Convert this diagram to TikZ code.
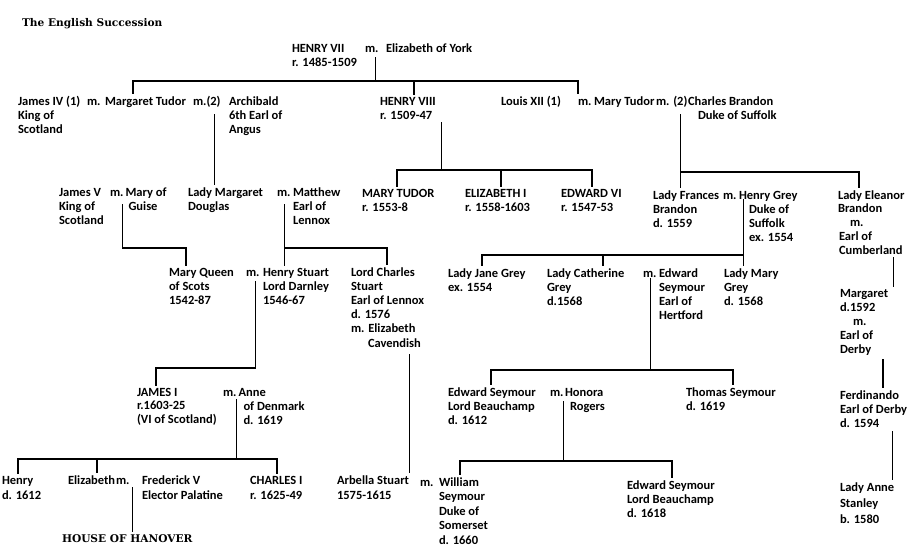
\documentclass[tikz,border=0pt]{standalone}
\usepackage{fontspec}
\newfontfamily\labfont{Carlito}
\newfontfamily\ttlfont{DejaVu Serif}
\usetikzlibrary{calc}
\newcommand\famstack[2][14]{\vtop{\baselineskip=#1pt\lineskiplimit=-100pt\lineskip=0pt\halign{##\hfil\cr#2\crcr}}}
\tikzset{
  lab/.style={anchor=base west, inner sep=0pt, outer sep=0pt, font=\labfont\bfseries\fontsize{12.5pt}{14pt}\selectfont},
  ttl/.style={anchor=base west, inner sep=0pt, outer sep=0pt, font=\ttlfont\bfseries\fontsize{10.6pt}{13pt}\selectfont},
  ln/.style={draw=black, line width=1.2pt, line cap=rect},
  drop/.style={ln, shorten >=2.5pt},
}
\begin{document}
\begin{tikzpicture}[x=1pt,y=-1pt]
\fill[white] (0,0) rectangle (912,550);
\useasboundingbox (0,0) rectangle (912,550);

\node[ttl] (title) at (22,26) {The English Succession};

% Row 1
\node[lab] (h7) at (292,52) {\famstack{HENRY VII\cr r. 1485-1509}};
\node[lab] (m0) at (365,52) {m.};
\node[lab] (eoy) at (386,52) {Elizabeth of York};

% Row 2
\node[lab] (j4) at (18,105) {\famstack{James IV (1)\cr King of\cr Scotland}};
\node[lab] (m1) at (87,105) {m.};
\node[lab] (mt) at (105,105) {Margaret Tudor};
\node[lab] (m2) at (193,105) {m.(2)};
\node[lab] (arch) at (229,105) {\famstack{Archibald\cr 6th Earl of\cr Angus}};
\node[lab] (h8) at (380,105) {\famstack{HENRY VIII\cr r. 1509-47}};
\node[lab] (l12) at (501,105) {Louis XII (1)};
\node[lab] (m5) at (578,105) {m.};
\node[lab] (maryt) at (594,105) {Mary Tudor};
\node[lab] (m6) at (656,105) {m. (2)};
\node[lab] (cb) at (688,105) {\famstack{Charles Brandon\cr\hskip10pt Duke of Suffolk}};

% Row 3
\node[lab] (j5) at (59,196) {\famstack{James V\cr King of\cr Scotland}};
\node[lab] (m3) at (110,196) {m.};
\node[lab] (mog) at (125.5,196) {\famstack{Mary of\cr\hskip3pt Guise}};
\node[lab] (lmd) at (188,196) {\famstack{Lady Margaret\cr Douglas}};
\node[lab] (m4) at (277,196) {m.};
\node[lab] (mat) at (293,196) {\famstack{Matthew\cr Earl of\cr Lennox}};
\node[lab] (mt2) at (362,197) {\famstack{MARY TUDOR\cr r. 1553-8}};
\node[lab] (el1) at (465,197) {\famstack{ELIZABETH I\cr r. 1558-1603}};
\node[lab] (ed6) at (561,197) {\famstack{EDWARD VI\cr r. 1547-53}};
\node[lab] (lfb) at (653,199) {\famstack{Lady Frances\cr Brandon\cr d. 1559}};
\node[lab] (m7) at (723,199) {m.};
\node[lab] (hg) at (739,199) {\famstack{Henry Grey\cr\hskip10pt Duke of\cr\hskip10pt Suffolk\cr\hskip10pt ex. 1554}};
\node[lab] (le) at (838,199) {\famstack[13.8]{Lady Eleanor\cr Brandon\cr\hskip12pt m.\cr\hskip1pt Earl of\cr\hskip1pt Cumberland}};

% Row 4
\node[lab] (mqs) at (169,276) {\famstack{Mary Queen\cr of Scots\cr 1542-87}};
\node[lab] (m8) at (246,276) {m.};
\node[lab] (hs) at (263,276) {\famstack{Henry Stuart\cr Lord Darnley\cr 1546-67}};
\node[lab] (lcs) at (351,276) {\famstack[14.2]{Lord Charles\cr Stuart\cr Earl of Lennox\cr d. 1576\cr m. Elizabeth\cr\hskip17pt Cavendish}};
\node[lab] (ljg) at (448,277) {\famstack{Lady Jane Grey\cr ex. 1554}};
\node[lab] (lcg) at (547,277) {\famstack{Lady Catherine\cr Grey\cr d.1568}};
\node[lab] (m9) at (643,277) {m.};
\node[lab] (es) at (659,277) {\famstack{Edward\cr Seymour\cr Earl of\cr Hertford}};
\node[lab] (lmg) at (724,277) {\famstack{Lady Mary\cr Grey\cr d. 1568}};
\node[lab] (mgt) at (840,297) {\famstack[14.2]{Margaret\cr d.1592\cr\hskip13pt m.\cr Earl of\cr Derby}};

% Row 5
\node[lab] (j1) at (137,396) {\famstack[13.5]{JAMES I\cr r.1603-25\cr (VI of Scotland)}};
\node[lab] (m10) at (223,396) {m.};
\node[lab] (an) at (238.5,396) {\famstack{Anne\cr\hskip5pt of Denmark\cr\hskip5pt d. 1619}};
\node[lab] (esl) at (448,396) {\famstack{Edward Seymour\cr Lord Beauchamp\cr d. 1612}};
\node[lab] (m11) at (550,396) {m.};
\node[lab] (hon) at (565,396) {\famstack{Honora\cr\hskip5pt Rogers}};
\node[lab] (ts) at (686,396) {\famstack{Thomas Seymour\cr d. 1619}};
\node[lab] (fer) at (840,399) {\famstack{Ferdinando\cr Earl of Derby\cr d. 1594}};

% Row 6
\node[lab] (hen) at (2,484) {\famstack[15]{Henry\cr d. 1612}};
\node[lab] (el2) at (68,484) {Elizabeth};
\node[lab] (m12) at (116,484) {m.};
\node[lab] (fr) at (142,484) {\famstack[15]{Frederick V\cr Elector Palatine}};
\node[lab] (ch1) at (250,484) {\famstack[15]{CHARLES I\cr r. 1625-49}};
\node[lab] (arb) at (337,484) {\famstack[15]{Arbella Stuart\cr 1575-1615}};
\node[lab] (m13) at (420,486) {m.};
\node[lab] (ws) at (439,486) {\famstack[14.5]{William\cr Seymour\cr Duke of\cr Somerset\cr d. 1660}};
\node[lab] (es2) at (627,489) {\famstack{Edward Seymour\cr Lord Beauchamp\cr d. 1618}};
\node[lab] (las) at (840,491) {\famstack[16]{Lady Anne\cr Stanley\cr b. 1580}};
\node[ttl] (hh) at (62,542) {HOUSE OF HANOVER};

% ---- connectors ----
\coordinate (s0) at ($(m0.base)+(4,6)$);
\coordinate (b1L) at (133,81);
\coordinate (b1H) at (414,81);
\coordinate (b1R) at (578,81);
\draw[ln] (s0) -- (s0 |- b1L);
\draw[ln] (b1L) -- (b1R);
\draw[drop] (b1L) -- (b1L |- mt.north);
\draw[drop] (b1H) -- (b1H |- h8.north);
\draw[drop] (b1R) -- (b1R |- maryt.north);

\coordinate (s2) at ($(m2.base)+(8,10)$);
\draw[drop] (s2) -- (s2 |- lmd.north);

\coordinate (s3) at ($(h8.base)+(34,18)$);
\coordinate (b2L) at (397,170);
\coordinate (b2M) at (501,170);
\coordinate (b2R) at (592,170);
\draw[ln] (s3) -- (s3 |- b2L);
\draw[ln] (b2L) -- (b2R);
\draw[drop] (b2L) -- (b2L |- mt2.north);
\draw[drop] (b2M) -- (b2M |- el1.north);
\draw[drop] (b2R) -- (b2R |- ed6.north);

\coordinate (s6) at ($(m6.base)+(9,10)$);
\coordinate (b3R) at (859,172);
\draw[drop] (s6) -- (s6 |- lfb.north);
\draw[ln] (s6 |- b3R) -- (b3R);
\draw[drop] (b3R) -- (b3R |- le.north);

\coordinate (s3b) at ($(m3.base)+(6,9)$);
\coordinate (b4R) at (186,248);
\draw[ln] (s3b) -- (s3b |- b4R) -- (b4R);
\draw[drop] (b4R) -- (b4R |- mqs.north);

\coordinate (s4) at ($(m4.base)+(1,9)$);
\coordinate (b5R) at (387,248);
\draw[drop] (s4) -- (s4 |- hs.north);
\draw[ln] (s4 |- b5R) -- (b5R);
\draw[drop] (b5R) -- (b5R |- lcs.north);

\coordinate (s7) at ($(m7.base)+(14,1)$);
\coordinate (b6L) at (482,255);
\coordinate (b6M) at (603,255);
\draw[drop] (s7) -- (s7 |- lmg.north);
\draw[ln] (b6L) -- (s7 |- b6L);
\draw[drop] (b6L) -- (b6L |- ljg.north);
\draw[drop] (b6M) -- (b6M |- lcg.north);

\coordinate (sle) at ($(le.base)+(22,59)$);
\draw[drop] (sle) -- (sle |- mgt.north);

\coordinate (s8) at ($(m8.base)+(3,6)$);
\coordinate (b7L) at (156,368);
\draw[ln] (s8) -- (s8 |- b7L) -- (b7L);
\draw[drop] (b7L) -- (b7L |- j1.north);

\coordinate (slcs) at ($(lcs.base)+(22,79)$);
\draw[drop] (slcs) -- (slcs |- arb.north);

\coordinate (s9) at ($(m9.base)+(1,2)$);
\coordinate (b8L) at (491,370);
\coordinate (b8R) at (733,370);
\draw[ln] (s9) -- (s9 |- b8L);
\draw[ln] (b8L) -- (b8R);
\draw[drop] (b8L) -- (b8L |- esl.north);
\draw[drop] (b8R) -- (b8R |- ts.north);

\coordinate (smgt) at ($(mgt.base)+(19,63)$);
\draw[drop] (smgt) -- (smgt |- fer.north);

\coordinate (s10) at ($(m10.base)+(7,4)$);
\coordinate (b9L) at (18,459);
\coordinate (b9M) at (97,459);
\coordinate (b9R) at (277,459);
\draw[ln] (s10) -- (s10 |- b9L);
\draw[ln] (b9L) -- (b9R);
\draw[drop] (b9L) -- (b9L |- hen.north);
\draw[drop] (b9M) -- (b9M |- el2.north);
\draw[drop] (b9R) -- (b9R |- ch1.north);

\coordinate (s11) at ($(m11.base)+(7,6)$);
\coordinate (b10L) at (460,461);
\coordinate (b10R) at (672,461);
\draw[ln] (s11) -- (s11 |- b10L);
\draw[ln] (b10L) -- (b10R);
\draw[drop] (b10L) -- (b10L |- ws.north);
\draw[drop] (b10R) -- (b10R |- es2.north);

\coordinate (sfer) at ($(fer.base)+(19,33)$);
\draw[drop] (sfer) -- (sfer |- las.north);

\coordinate (s12) at ($(m12.base)+(10,4)$);
\draw[drop] (s12) -- (s12 |- hh.north);
\end{tikzpicture}
\end{document}
